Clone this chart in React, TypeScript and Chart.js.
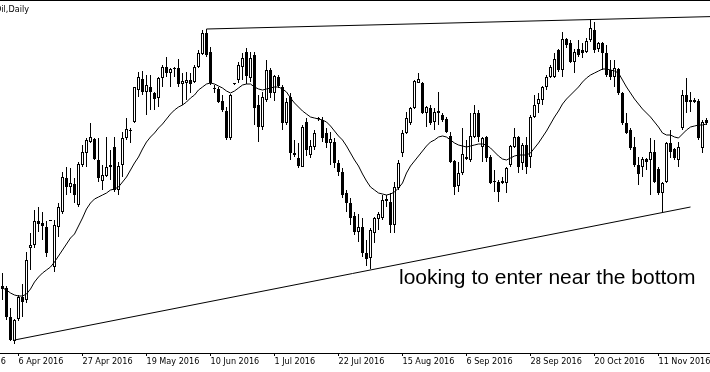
import { useEffect, useRef } from 'react';
import { Chart, registerables } from 'chart.js';

Chart.register(...registerables);

const title = 'Oil,Daily';
const note = 'looking to enter near the bottom';

const tickLabels = ['16 Mar 2016', '6 Apr 2016', '27 Apr 2016', '19 May 2016', '10 Jun 2016', '1 Jul 2016', '22 Jul 2016', '15 Aug 2016', '6 Sep 2016', '28 Sep 2016', '20 Oct 2016', '11 Nov 2016'];
const firstTickBar = -12;
const barsPerTick = 16;

const opens = [
  38.70, 38.60, 37.15, 35.95, 37.05, 38.15, 38.00, 40.60, 40.75, 41.95,
  41.85, 41.65, 41.95, 39.65, 41.65, 42.40, 44.10, 43.65, 43.80, 42.75,
  44.75, 45.35, 45.90, 46.05, 45.00, 43.95, 44.20, 44.75, 45.65, 43.50,
  44.75, 46.10, 46.45, 46.90, 48.50, 49.05, 48.40, 48.65, 48.35, 48.10,
  49.10, 49.65, 49.35, 49.60, 49.60, 48.80, 48.85, 49.00, 48.90, 49.65,
  50.30, 51.35, 50.40, 48.60, 48.55, 47.95, 47.45, 46.10, 48.80, 49.00,
  49.65, 50.40, 49.10, 50.25, 47.75, 46.65, 48.00, 49.50, 48.35, 49.15,
  48.65, 46.85, 48.15, 45.35, 45.10, 44.65, 46.90, 45.25, 45.65, 47.05,
  47.00, 46.35, 45.85, 45.90, 44.85, 44.40, 43.35, 42.85, 42.20, 41.40,
  41.65, 40.35, 40.10, 41.35, 42.05, 42.10, 42.95, 42.90, 41.75, 43.60,
  45.35, 46.35, 46.85, 47.60, 48.85, 48.85, 47.35, 47.60, 46.90, 47.45,
  47.25, 47.05, 46.20, 44.95, 43.70, 44.35, 45.15, 45.00, 46.15, 47.35,
  45.65, 46.15, 45.15, 43.95, 43.90, 43.85, 43.85, 44.75, 45.65, 46.15,
  44.85, 45.75, 45.15, 47.15, 47.80, 48.00, 48.65, 49.15, 49.15, 50.50,
  49.50, 51.05, 50.85, 49.90, 50.55, 50.50, 50.40, 51.00, 51.50, 50.55,
  50.85, 50.35, 49.50, 49.15, 49.55, 48.35, 46.85, 46.50, 45.65, 44.75,
  44.65, 45.05, 45.00, 45.40, 44.55, 43.35, 43.90, 45.85, 45.55, 45.00,
  46.60, 48.25, 47.90, 48.00, 47.95, 45.60, 47.00,
];

const highs = [
  39.35, 38.70, 37.60, 37.05, 38.25, 38.80, 40.40, 41.35, 42.50, 42.65,
  42.40, 41.95, 41.95, 42.00, 42.85, 44.40, 44.65, 44.60, 44.10, 44.90,
  45.75, 46.10, 46.85, 46.10, 46.10, 44.75, 46.15, 45.50, 46.15, 44.90,
  46.40, 47.10, 46.60, 48.65, 49.40, 49.45, 49.25, 49.25, 48.40, 49.15,
  49.75, 50.15, 49.60, 49.65, 50.05, 49.35, 49.40, 49.35, 49.75, 50.50,
  51.50, 51.55, 50.65, 48.75, 48.65, 48.25, 47.65, 48.30, 48.85, 49.90,
  50.35, 50.60, 50.40, 50.40, 48.25, 48.40, 50.00, 49.60, 49.25, 49.25,
  48.75, 48.10, 48.35, 46.00, 45.85, 46.75, 47.10, 46.00, 46.50, 47.15,
  47.15, 46.60, 46.40, 46.10, 45.00, 44.60, 43.50, 43.10, 42.40, 42.30,
  42.10, 41.00, 41.60, 42.15, 42.40, 43.25, 43.25, 43.35, 43.90, 45.00,
  46.50, 47.40, 47.65, 49.00, 49.35, 48.90, 47.70, 47.75, 47.60, 48.40,
  47.35, 47.15, 46.40, 45.00, 44.90, 46.60, 46.00, 47.35, 47.75, 47.50,
  46.15, 46.20, 45.25, 44.50, 44.00, 44.15, 44.65, 45.75, 46.60, 46.20,
  45.85, 46.15, 47.25, 48.25, 48.35, 48.70, 49.25, 49.75, 50.35, 50.55,
  51.40, 51.10, 51.00, 50.55, 51.00, 50.85, 51.10, 52.05, 51.90, 50.90,
  50.90, 50.75, 50.00, 50.00, 49.60, 48.40, 47.35, 46.60, 46.15, 45.15,
  45.15, 45.10, 46.10, 46.00, 44.65, 43.90, 45.90, 46.50, 45.60, 45.90,
  48.50, 49.10, 48.40, 48.10, 48.05, 47.00, 47.10,
];

const lows = [
  38.00, 37.00, 35.95, 35.80, 36.95, 37.15, 37.85, 39.50, 40.60, 41.40,
  41.00, 40.15, 41.95, 39.40, 41.15, 42.30, 43.25, 43.35, 42.85, 42.65,
  44.65, 44.65, 45.85, 45.00, 43.90, 43.50, 44.15, 44.00, 43.40, 43.25,
  44.15, 46.00, 45.85, 46.85, 48.15, 48.25, 47.25, 47.50, 47.50, 47.65,
  48.65, 49.15, 48.65, 49.15, 48.65, 47.75, 48.00, 48.35, 48.85, 49.60,
  50.25, 50.15, 48.75, 48.35, 47.85, 47.40, 46.00, 46.00, 48.75, 48.85,
  49.00, 48.80, 48.90, 46.75, 45.90, 46.50, 47.90, 48.10, 47.95, 48.60,
  46.50, 46.75, 45.00, 45.15, 44.60, 44.65, 45.20, 45.10, 45.50, 46.95,
  45.90, 45.60, 44.75, 44.60, 44.20, 43.10, 42.40, 41.75, 41.25, 40.90,
  40.15, 39.70, 39.55, 40.85, 41.50, 42.00, 42.65, 41.35, 41.35, 43.50,
  45.15, 46.30, 46.75, 47.55, 48.85, 47.30, 46.65, 46.75, 46.50, 46.75,
  46.90, 46.35, 44.85, 43.25, 43.40, 44.25, 45.00, 44.90, 46.10, 45.90,
  44.90, 44.90, 43.80, 43.40, 42.90, 43.80, 43.35, 44.65, 45.60, 44.35,
  44.50, 44.30, 44.60, 47.10, 47.35, 47.75, 48.50, 49.10, 49.10, 49.40,
  49.15, 50.60, 49.85, 49.35, 50.15, 50.10, 50.35, 50.90, 50.35, 50.40,
  49.50, 49.15, 49.00, 48.65, 48.25, 46.75, 46.30, 45.50, 44.65, 43.75,
  44.15, 44.50, 43.25, 43.85, 43.25, 42.40, 43.85, 45.10, 45.00, 44.65,
  46.50, 47.35, 47.40, 47.85, 46.00, 45.35, 46.75,
];

const closes = [
  38.55, 37.15, 36.00, 37.00, 38.15, 37.90, 40.00, 40.75, 41.95, 41.80,
  41.70, 40.35, 41.95, 41.75, 42.65, 44.15, 43.65, 43.85, 43.25, 44.80,
  45.40, 46.00, 46.15, 45.05, 44.10, 44.25, 44.65, 44.65, 43.50, 44.70,
  46.10, 46.55, 46.50, 48.65, 49.15, 48.40, 48.75, 48.40, 48.05, 49.10,
  49.65, 49.35, 49.55, 49.55, 48.80, 48.95, 49.00, 48.80, 49.65, 50.35,
  51.35, 50.25, 48.85, 48.55, 47.90, 47.50, 46.10, 48.25, 48.80, 49.75,
  50.10, 49.20, 50.10, 47.60, 46.65, 48.15, 49.50, 48.35, 49.20, 48.70,
  46.85, 47.90, 45.35, 45.25, 44.70, 46.65, 45.50, 45.70, 46.35, 47.05,
  46.10, 45.85, 46.05, 44.85, 44.40, 43.25, 42.85, 42.10, 41.40, 41.65,
  40.35, 40.05, 41.50, 42.10, 42.30, 43.00, 43.05, 41.75, 43.65, 44.85,
  46.35, 47.10, 47.60, 48.95, 49.05, 47.35, 47.65, 46.85, 47.40, 47.35,
  47.00, 46.40, 44.90, 43.65, 44.35, 45.30, 45.05, 46.20, 47.35, 46.15,
  46.10, 45.10, 43.85, 43.90, 43.40, 43.95, 44.60, 45.70, 46.15, 44.65,
  45.75, 44.65, 47.15, 47.75, 48.05, 48.65, 49.15, 49.65, 50.05, 49.50,
  51.05, 50.75, 49.90, 50.40, 50.25, 50.35, 50.95, 51.60, 50.50, 50.85,
  50.35, 49.25, 49.15, 49.60, 48.35, 46.85, 46.35, 45.60, 44.75, 44.30,
  45.05, 44.90, 45.40, 43.90, 43.35, 43.85, 45.85, 45.40, 45.10, 45.65,
  48.25, 47.90, 48.00, 47.90, 46.10, 46.90, 46.85,
];

const movingAverage = [
  38.60, 38.50, 38.35, 38.25, 38.20, 38.20, 38.30, 38.55, 38.90, 39.15,
  39.35, 39.50, 39.65, 39.90, 40.20, 40.50, 40.80, 41.10, 41.30, 41.70,
  42.10, 42.55, 42.85, 43.05, 43.15, 43.25, 43.35, 43.50, 43.55, 43.65,
  43.90, 44.15, 44.50, 44.85, 45.15, 45.55, 45.90, 46.15, 46.35, 46.60,
  46.80, 47.05, 47.30, 47.50, 47.65, 47.75, 47.90, 48.10, 48.25, 48.50,
  48.65, 48.80, 48.85, 48.80, 48.70, 48.60, 48.45, 48.35, 48.45, 48.60,
  48.75, 48.80, 48.80, 48.65, 48.55, 48.50, 48.55, 48.60, 48.65, 48.65,
  48.55, 48.40, 48.10, 47.85, 47.65, 47.45, 47.30, 47.15, 47.10, 47.05,
  47.00, 46.90, 46.70, 46.45, 46.20, 46.00, 45.70, 45.35, 45.00, 44.70,
  44.30, 43.95, 43.65, 43.50, 43.35, 43.30, 43.25, 43.30, 43.40, 43.60,
  43.85, 44.35, 44.70, 44.95, 45.20, 45.45, 45.70, 45.90, 46.00, 46.15,
  46.20, 46.15, 46.00, 45.85, 45.75, 45.70, 45.65, 45.70, 45.75, 45.80,
  45.80, 45.75, 45.60, 45.40, 45.20, 45.05, 45.00, 45.10, 45.20, 45.25,
  45.25, 45.25, 45.35, 45.60, 45.85, 46.15, 46.45, 46.80, 47.15, 47.45,
  47.80, 48.05, 48.25, 48.45, 48.65, 48.90, 49.10, 49.25, 49.35, 49.45,
  49.55, 49.55, 49.50, 49.45, 49.35, 49.00, 48.65, 48.35, 48.05, 47.80,
  47.55, 47.35, 47.15, 46.90, 46.65, 46.35, 46.25, 46.25, 46.15, 46.10,
  46.30, 46.50, 46.65, 46.70, 46.75, 46.75, 46.80,
];

// trend lines: [bar index, price] anchor pairs
const upperTrendBars = [51, 177];
const upperTrendPrices = [51.55, 52.17];
const lowerTrendBars = [3, 172];
const lowerTrendPrices = [36.0, 42.65];

const priceMin = 35.35;
const priceMax = 53.0;

const SHIFT = 60; // canvas extends this far left of the page
const CANVAS_W = 800;
const CANVAS_H = 380;
const AXIS_FONT = "'DejaVu Sans Condensed', 'DejaVu Sans', sans-serif";

export default function App() {
  const ref = useRef<HTMLCanvasElement>(null);

  useEffect(() => {
    const canvas = ref.current;
    if (!canvas) return;
    const idx = opens.map((_, i) => i);
    const bodyColors = idx.map((i) => (closes[i] >= opens[i] ? '#ffffff' : '#000000'));
    const tickValues = tickLabels.map((_, k) => firstTickBar + k * barsPerTick);

    const overlay = {
      id: 'overlay',
      afterDraw(chart: any) {
        const ctx = chart.ctx as CanvasRenderingContext2D;
        const area = chart.chartArea;
        ctx.save();
        ctx.fillStyle = '#000';
        ctx.fillRect(area.left, area.top, area.right - area.left, 1);
        ctx.textBaseline = 'alphabetic';
        ctx.textAlign = 'left';
        ctx.font = `9px ${AXIS_FONT}`;
        ctx.fillText(title, SHIFT - 5, 12);
        ctx.font = "21px 'Liberation Sans', Arial, sans-serif";
        ctx.fillText(note, SHIFT + 399, 284);
        ctx.restore();
      },
    };

    const lineBase = {
      type: 'line' as const,
      borderColor: '#000',
      borderWidth: 1,
      pointRadius: 0,
      tension: 0,
      fill: false,
    };

    const chart = new Chart(canvas, {
      type: 'bar',
      data: {
        datasets: [
          { ...lineBase, data: upperTrendBars.map((b, k) => ({ x: b, y: upperTrendPrices[k] })) },
          { ...lineBase, data: lowerTrendBars.map((b, k) => ({ x: b, y: lowerTrendPrices[k] })) },
          { ...lineBase, data: idx.map((i) => ({ x: i, y: movingAverage[i] })) },
          {
            type: 'bar',
            data: idx.map((i) => ({ x: i, y: [opens[i], closes[i]] })),
            backgroundColor: bodyColors,
            borderColor: '#000',
            borderWidth: 1,
            borderSkipped: false,
            barThickness: 3,
            minBarLength: 1,
            grouped: false,
            inflateAmount: 0,
          } as any,
          {
            type: 'bar',
            data: idx.map((i) => ({ x: i, y: [lows[i], highs[i]] })),
            backgroundColor: '#000',
            borderWidth: 0,
            barThickness: 1,
            grouped: false,
            inflateAmount: 0,
          } as any,
        ],
      },
      options: {
        responsive: false,
        animation: false,
        devicePixelRatio: 1,
        layout: { padding: { left: 0, right: 0, top: 0, bottom: 12 } },
        plugins: { legend: { display: false }, tooltip: { enabled: false }, title: { display: false } },
        scales: {
          x: {
            type: 'linear',
            min: -15.625,
            max: 184.375,
            offset: false,
            position: 'bottom',
            grid: {
              display: true,
              offset: false,
              drawOnChartArea: false,
              drawTicks: true,
              tickLength: 3,
              color: '#000',
              tickColor: '#000',
              lineWidth: 1,
            },
            border: { display: true, color: '#000', width: 1 },
            afterBuildTicks: (scale: any) => {
              scale.ticks = tickValues.map((v) => ({ value: v }));
            },
            ticks: {
              autoSkip: false,
              maxRotation: 0,
              minRotation: 0,
              align: 'start',
              padding: 1.5,
              color: '#000',
              font: { family: AXIS_FONT, size: 9, lineHeight: 1 },
              callback: (_v: any, index: number) => tickLabels[index] ?? '',
            },
          },
          y: {
            type: 'linear',
            display: false,
            min: priceMin,
            max: priceMax,
          },
        },
      } as any,
      plugins: [overlay],
    });
    return () => chart.destroy();
  }, []);

  return (
    <div
      style={{
        position: 'fixed',
        left: 0,
        top: 0,
        width: 710,
        height: 372,
        overflow: 'hidden',
        background: '#ffffff',
      }}
    >
      <canvas
        ref={ref}
        width={CANVAS_W}
        height={CANVAS_H}
        style={{ position: 'absolute', left: -SHIFT, top: 0, width: CANVAS_W, height: CANVAS_H }}
      />
    </div>
  );
}
